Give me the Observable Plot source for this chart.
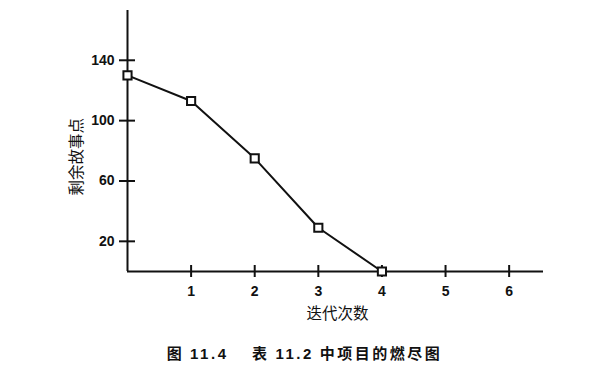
<!DOCTYPE html>
<html><head><meta charset="utf-8">
<script src="https://cdn.jsdelivr.net/npm/d3@7"></script>
<script src="https://cdn.jsdelivr.net/npm/@observablehq/plot@0.6"></script>
<style>
body{margin:0;background:#fff;}
#cap{width:609px;text-align:center;font:bold 15px "Noto Sans CJK SC",sans-serif;color:#111;margin-top:12px;letter-spacing:2.5px;white-space:pre;}
#cap .n{font-family:"Liberation Sans",Arial,sans-serif;}
</style>
</head><body>
<div id="chart"></div>
<div id="cap">图 <span class="n">11.4</span>    表 <span class="n">11.2</span> 中项目的燃尽图</div>
<script>
const iterations = [0, 1, 2, 3, 4];
const remaining = [130, 113, 75, 29, 0];
const xTicks = [1, 2, 3, 4, 5, 6];
const yTicks = [20, 60, 100, 140];
const xLabel = "迭代次数";
const yLabel = "剩余故事点";
const xMax = 6.54, yMax = 173;

const data = iterations.map((x, i) => ({x, y: remaining[i]}));
const tickFont = {fontSize: 14, fontWeight: "bold", fontFamily: "Liberation Sans, Arial, sans-serif", fill: "#111"};

const plot = Plot.plot({
  width: 609, height: 330,
  marginLeft: 127, marginRight: 66, marginTop: 10, marginBottom: 59,
  x: {domain: [0, xMax], axis: null},
  y: {domain: [0, yMax], axis: null},
  marks: [
    Plot.ruleY([0], {x1: 0, x2: xMax, stroke: "#111", strokeWidth: 2}),
    Plot.ruleX([0], {y1: 0, y2: yMax, stroke: "#111", strokeWidth: 2}),
    Plot.ruleX(xTicks, {x: d => d, y1: 0, y2: 0, insetTop: -6, insetBottom: -6, stroke: "#111", strokeWidth: 2}),
    Plot.ruleY(yTicks, {y: d => d, x1: 0, x2: 0, insetLeft: -8, insetRight: -8, stroke: "#111", strokeWidth: 2}),
    Plot.text(xTicks, {x: d => d, y: 0, dy: 20, text: d => String(d), ...tickFont}),
    Plot.text(yTicks, {x: 0, y: d => d, dx: -13, textAnchor: "end", text: d => String(d), ...tickFont}),
    Plot.line(data, {x: "x", y: "y", stroke: "#111", strokeWidth: 2}),
    Plot.dot(data, {x: "x", y: "y", symbol: "square", r: 4.6, fill: "white", stroke: "#111", strokeWidth: 2}),
    Plot.text([xLabel], {frameAnchor: "bottom", dy: 47, x: 3.3, text: d => d, fontSize: 15.5, fontFamily: "Noto Sans CJK SC, sans-serif", fill: "#111"}),
    Plot.text([yLabel], {x: 0, y: 76, dx: -50, rotate: -90, text: d => d, fontSize: 15.5, fontFamily: "Noto Sans CJK SC, sans-serif", fill: "#111"})
  ]
});
document.getElementById("chart").appendChild(plot);
</script>
</body></html>
